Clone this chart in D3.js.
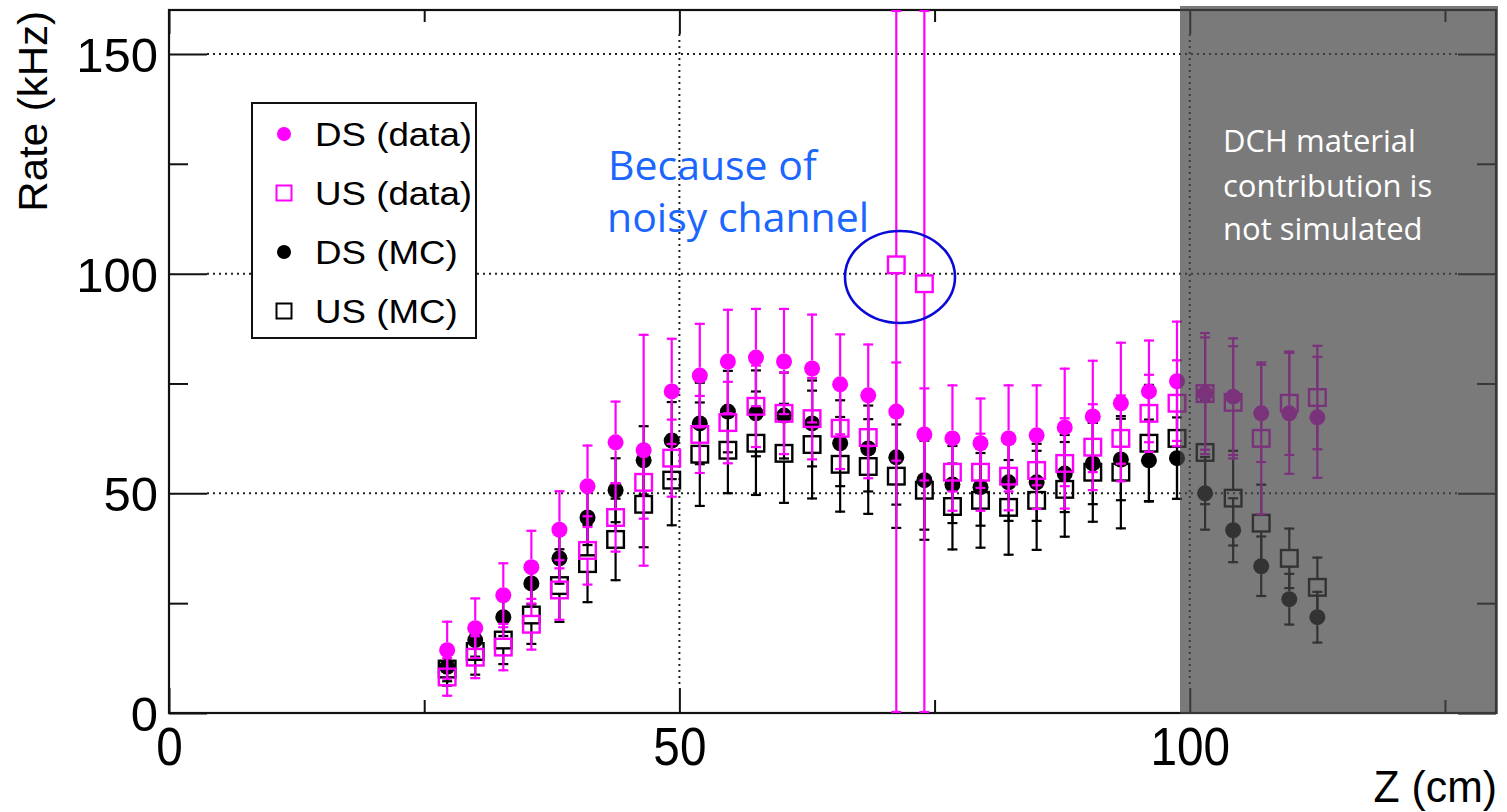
<!DOCTYPE html>
<html>
<head>
<meta charset="utf-8">
<script src="https://cdn.jsdelivr.net/npm/d3@7"></script>
<style>
  body { margin: 0; background: #fff; }
  svg { display: block; }
  .axis text { font-family: "Liberation Sans", Arial, sans-serif; fill: #000; }
</style>
</head>
<body>
<svg id="chart" width="1507" height="812"></svg>
<script>
// bin centres (cm)
var zBins = [27.25, 30, 32.75, 35.5, 38.25, 41, 43.75, 46.5, 49.25, 52, 54.75, 57.5, 60.25, 63, 65.75, 68.5,
             71.25, 74, 76.75, 79.5, 82.25, 85, 87.75, 90.5, 93.25, 96, 98.75, 101.5, 104.25, 107, 109.75, 112.5];

// DS (data) - magenta full circle
var dsData    = [14.3, 19.3, 26.8, 33.2, 41.7, 51.6, 61.6, 59.8, 73.2, 76.8, 80, 80.9, 80, 78.4, 74.8, 72.3,
                 68.6, 63.4, 62.5, 61.4, 62.5, 63.2, 65, 67.5, 70.5, 73.2, 75.5, 72.7, 72, 68.2, 68.2, 67.3];
var dsDataErr = [6.7, 7, 7.5, 8.5, 9, 9.5, 9.5, 26.5, 12.2, 12, 12, 11.3, 12.2, 12.5, 11.6, 11.8,
                 11.4, 10.7, 12.3, 10.4, 12.3, 11.6, 13.6, 12.9, 14, 11.8, 13.8, 14, 13.5, 11.3, 14, 14];

// US (data) - magenta open square
var usData    = [8.2, 12.7, 15, 20.2, 28, 37, 44.5, 52.5, 58, 63.4, 66.1, 69.8, 68.2, 67, 64.8, 62.7,
                 102, 97.7, 54.8, 54.8, 53.9, 55.2, 56.8, 60.5, 62.5, 68.2, 70.5, 72.7, 70.7, 62.5, 70.5, 71.8];
var usDataErr = [4.5, 5, 5.5, 6, 7, 8, 8, 8.5, 9, 9, 9.5, 9.5, 9.5, 9.5, 9.5, 9.5,
                 110, 105, 9, 9, 8, 9, 10.5, 10, 10, 9, 10, 13, 13, 17.5, 12, 12];

// DS (MC) - black full circle
var dsMC      = [10.5, 16.6, 21.8, 29.5, 35.2, 44.5, 50.7, 57.5, 62, 65.9, 68.6, 68.2, 67.7, 65.9, 61.4, 60.2,
                 58.2, 53, 52, 51.4, 52.5, 52.5, 54.5, 56.8, 57.7, 57.5, 58, 50, 41.6, 33.4, 25.9, 21.8];
var dsMCErr   = [3.5, 4, 4.5, 5, 6, 6.5, 7.5, 8, 9, 9.5, 9.5, 10, 10, 10, 10, 10,
                 11, 11.5, 9, 9, 9, 9, 9, 9.5, 9.5, 9.5, 9.5, 8.5, 7.5, 7, 6, 6];

// US (MC) - black open square
var usMC      = [10, 14, 16.6, 22.3, 29, 34, 39.5, 47.5, 53, 58.9, 59.8, 61.4, 59.1, 61.1, 56.6, 56.1,
                 53.9, 50.7, 47, 48.4, 46.8, 48.4, 50.9, 54.8, 54.8, 61.4, 62.5, 59.3, 48.9, 43.2, 35.2, 28.6];
var usMCErr   = [4, 5.5, 5.7, 6.8, 8.5, 9, 9.5, 10, 10.5, 12, 10, 12, 11.5, 12.5, 11, 11,
                 12, 11.5, 10, 11, 11, 11.5, 11, 11.5, 13, 13.5, 14, 12, 11, 9, 7, 7];

var legendLabels = ["DS (data)", "US (data)", "DS (MC)", "US (MC)"];
var xTicksMajor = [0, 50, 100];
var xTicksMinor = [25, 75, 125];
var yTicksMajor = [0, 50, 100, 150];
var yTicksMinor = [25, 75, 125];

var svg = d3.select("#chart");

var fL = 169, fR = 1496, fT = 10, fB = 713;
var x = d3.scaleLinear().domain([0, 130]).range([fL, fR]);
var y = d3.scaleLinear().domain([0, 160]).range([fB, fT]);

var MAG = "#ff00ff";

// ---------- grid (dotted) ----------
var grid = svg.append("g").attr("class", "grid")
  .attr("stroke", "#222").attr("stroke-width", 2).attr("stroke-dasharray", "2,4");
grid.selectAll("line.gy").data(yTicksMajor.slice(1)).enter().append("line")
  .attr("x1", fL + 38).attr("x2", fR - 38).attr("y1", d => y(d)).attr("y2", d => y(d));
grid.selectAll("line.gx").data(xTicksMajor.slice(1)).enter().append("line")
  .attr("y1", fT + 24).attr("y2", fB - 25).attr("x1", d => x(d)).attr("x2", d => x(d));

// ---------- axes / frame ----------
function styleAxis(g) {
  g.select(".domain").remove();
  g.selectAll(".tick line").attr("stroke", "#111").attr("stroke-width", 2);
}
svg.append("g").attr("class", "axis").attr("transform", "translate(0," + fB + ")")
  .call(d3.axisBottom(x).tickValues(xTicksMajor).tickSize(-25).tickPadding(12).tickFormat(d3.format("d")))
  .call(styleAxis)
  .call(g => g.selectAll("text").attr("font-size", 53).attr("dy", "0.71em").attr("y", 14)
      .attr("transform", "scale(0.9,1)"));
svg.append("g").attr("class", "axis").attr("transform", "translate(0," + fB + ")")
  .call(d3.axisBottom(x).tickValues(xTicksMinor).tickSize(-13).tickFormat(""))
  .call(styleAxis);
svg.append("g").attr("class", "axis").attr("transform", "translate(0," + fT + ")")
  .call(d3.axisTop(x).tickValues(xTicksMajor).tickSize(-24).tickFormat(""))
  .call(styleAxis);
svg.append("g").attr("class", "axis").attr("transform", "translate(0," + fT + ")")
  .call(d3.axisTop(x).tickValues(xTicksMinor).tickSize(-12).tickFormat(""))
  .call(styleAxis);

svg.append("g").attr("class", "axis").attr("transform", "translate(" + fL + ",0)")
  .call(d3.axisLeft(y).tickValues(yTicksMajor).tickSize(-38).tickPadding(11).tickFormat(d3.format("d")))
  .call(styleAxis)
  .call(g => g.selectAll("text").attr("font-size", 49).attr("dy", "0.36em"));
svg.append("g").attr("class", "axis").attr("transform", "translate(" + fL + ",0)")
  .call(d3.axisLeft(y).tickValues(yTicksMinor).tickSize(-19).tickFormat(""))
  .call(styleAxis);
svg.append("g").attr("class", "axis").attr("transform", "translate(" + fR + ",0)")
  .call(d3.axisRight(y).tickValues(yTicksMajor).tickSize(-38).tickFormat(""))
  .call(styleAxis);
svg.append("g").attr("class", "axis").attr("transform", "translate(" + fR + ",0)")
  .call(d3.axisRight(y).tickValues(yTicksMinor).tickSize(-19).tickFormat(""))
  .call(styleAxis);

svg.append("rect").attr("x", fL).attr("y", fT).attr("width", fR - fL).attr("height", fB - fT)
  .attr("fill", "none").attr("stroke", "#111").attr("stroke-width", 2.2);

// axis titles
svg.append("text").attr("class", "axis")
  .attr("transform", "translate(47," + (fT + 1) + ") rotate(-90) scale(1.05,1)")
  .attr("text-anchor", "end").attr("font-family", "Liberation Sans, Arial, sans-serif")
  .attr("font-size", 40).text("Rate (kHz)");
svg.append("text")
  .attr("transform", "translate(1497,802) scale(0.95,1)")
  .attr("text-anchor", "end").attr("font-family", "Liberation Sans, Arial, sans-serif")
  .attr("font-size", 45).text("Z (cm)");

// ---------- data ----------
svg.append("clipPath").attr("id", "frameClip").append("rect")
  .attr("x", fL).attr("y", fT).attr("width", fR - fL).attr("height", fB - fT);
var plot = svg.append("g").attr("clip-path", "url(#frameClip)");

var series = [
  {vals: dsMC,   errs: dsMCErr,   color: "#000", shape: "circle"},
  {vals: usMC,   errs: usMCErr,   color: "#000", shape: "square"},
  {vals: dsData, errs: dsDataErr, color: MAG,    shape: "circle"},
  {vals: usData, errs: usDataErr, color: MAG,    shape: "square"}
];

var R = 8, HS = 8.3, CAP = 5;
var yMin = y.domain()[0], yMax = y.domain()[1];

series.forEach(function(s) {
  var pts = zBins.map((z, i) => ({z: z, v: s.vals[i], e: s.errs[i]}));
  var g = plot.append("g");
  var half = s.shape === "circle" ? R : HS;

  // error bars, stopping at the marker edge
  var eb = g.selectAll("g.err").data(pts).enter().append("g")
    .attr("stroke", s.color).attr("stroke-width", 2.2);
  eb.append("line")
    .attr("x1", d => x(d.z)).attr("x2", d => x(d.z))
    .attr("y1", d => y(Math.min(d.v + d.e, yMax))).attr("y2", d => y(d.v) - half);
  eb.append("line")
    .attr("x1", d => x(d.z)).attr("x2", d => x(d.z))
    .attr("y1", d => y(d.v) + half).attr("y2", d => y(Math.max(d.v - d.e, yMin)));
  eb.append("line")
    .attr("x1", d => x(d.z) - CAP).attr("x2", d => x(d.z) + CAP)
    .attr("y1", d => y(Math.min(d.v + d.e, yMax)) + 1).attr("y2", d => y(Math.min(d.v + d.e, yMax)) + 1);
  eb.append("line")
    .attr("x1", d => x(d.z) - CAP).attr("x2", d => x(d.z) + CAP)
    .attr("y1", d => y(Math.max(d.v - d.e, yMin)) - 1).attr("y2", d => y(Math.max(d.v - d.e, yMin)) - 1);

  if (s.shape === "circle") {
    g.selectAll("circle").data(pts).enter().append("circle")
      .attr("cx", d => x(d.z)).attr("cy", d => y(d.v)).attr("r", R)
      .attr("fill", s.color);
  } else {
    g.selectAll("rect").data(pts).enter().append("rect")
      .attr("x", d => x(d.z) - HS).attr("y", d => y(d.v) - HS)
      .attr("width", 2 * HS).attr("height", 2 * HS)
      .attr("fill", "none").attr("stroke", s.color).attr("stroke-width", 2.4);
  }
});

// ---------- legend ----------
var lg = svg.append("g");
lg.append("rect").attr("x", 252).attr("y", 103).attr("width", 224).attr("height", 235)
  .attr("fill", "#fff").attr("stroke", "#111").attr("stroke-width", 2);
var legendRows = lg.selectAll("g.row").data(legendLabels).enter().append("g")
  .attr("transform", (d, i) => "translate(284," + (134 + i * 59) + ")");
legendRows.each(function(d, i) {
  var row = d3.select(this);
  var col = i < 2 ? MAG : "#000";
  if (i % 2 === 0) {
    row.append("circle").attr("r", 7).attr("fill", col);
  } else {
    row.append("rect").attr("x", -7.5).attr("y", -7.5).attr("width", 15).attr("height", 15)
      .attr("fill", "none").attr("stroke", col).attr("stroke-width", 2);
  }
  row.append("text").attr("transform", "translate(31,12) scale(1.08,1)")
    .attr("font-family", "Liberation Sans, Arial, sans-serif").attr("font-size", 34).text(d);
});

// ---------- annotation ----------
var blue = "#1a66ff";
svg.append("text").attr("x", 608).attr("y", 180).attr("fill", blue)
  .attr("font-family", "Open Sans, sans-serif").attr("font-size", 41).text("Because of");
svg.append("text").attr("x", 607).attr("y", 232).attr("fill", blue)
  .attr("font-family", "Open Sans, sans-serif").attr("font-size", 41).text("noisy channel");
svg.append("ellipse").attr("cx", 900).attr("cy", 277).attr("rx", 55).attr("ry", 46)
  .attr("fill", "none").attr("stroke", "#0a0ad8").attr("stroke-width", 2.6);

// ---------- shaded region (not simulated) ----------
svg.append("rect").attr("x", 1180).attr("y", 6).attr("width", 318).attr("height", 708)
  .attr("fill", "#474747").attr("fill-opacity", 0.72);
var note = ["DCH material", "contribution is", "not simulated"];
svg.selectAll("text.note").data(note).enter().append("text")
  .attr("x", 1223).attr("y", (d, i) => [152, 197, 240][i])
  .attr("fill", "#fff").attr("font-family", "Open Sans, sans-serif").attr("font-size", 31)
  .text(d => d);
</script>
</body>
</html>
